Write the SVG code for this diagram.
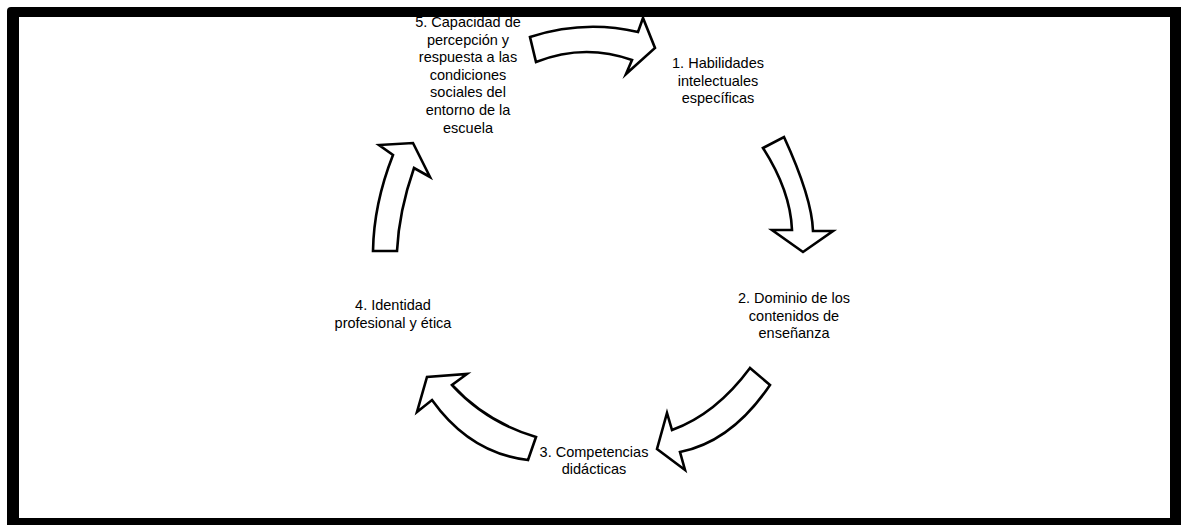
<svg xmlns="http://www.w3.org/2000/svg" width="1181" height="525" viewBox="0 0 1181 525">
  <style>
    .lbl { font-family: "Liberation Sans", Arial, sans-serif; font-size: 14.5px; fill: #000; text-anchor: middle; }
    .arrow { fill: #fff; stroke: #000; stroke-width: 2.6; stroke-linejoin: miter; stroke-miterlimit: 10; }
  </style>

  <!-- page frame -->
  <rect x="0" y="0" width="1181" height="525" fill="#fff"/>
  <rect x="7" y="7" width="1180" height="525" rx="4" fill="#000"/>
  <rect x="19" y="17" width="1151" height="501" fill="#fff"/>

  <!-- curved block arrows between the stages -->
  <g id="connectors">
    <path class="arrow" d="M530,37 Q584,19.5 638,32 L643,18 L655,48 L626,74 L632,60 Q584,43 536,62 Z"/>
    <path class="arrow" d="M763,148 L784,137 Q812,198 813,231 L833,231 L803,252 L772,230 L792,230 Q790.5,191 763,148 Z"/>
    <path class="arrow" d="M750,368 L770,385 Q731.7,441.7 680,452 L685,470 L657,449 L667,413 L672,430 Q715.8,414.2 750,368 Z"/>
    <path class="arrow" d="M536,437 Q486.2,422.2 452,385 L467,374 L427,377 L417,412 L432,400 Q470,453.3 528,460 Z"/>
    <path class="arrow" d="M373,251 L397,251 Q399,211 414,168 L430,177 L413,143 L379,145 L393,155 Q373.7,204 373,251 Z"/>
  </g>

  <g id="node-1">
    <text class="lbl" x="718" y="68">1. Habilidades</text>
    <text class="lbl" x="718" y="85.7">intelectuales</text>
    <text class="lbl" x="718" y="103.4">específicas</text>
  </g>

  <g id="node-2">
    <text class="lbl" x="794" y="303">2. Dominio de los</text>
    <text class="lbl" x="794" y="320.7">contenidos de</text>
    <text class="lbl" x="794" y="338.4">enseñanza</text>
  </g>

  <g id="node-3">
    <text class="lbl" x="594" y="456.5">3. Competencias</text>
    <text class="lbl" x="594" y="474">didácticas</text>
  </g>

  <g id="node-4">
    <text class="lbl" x="393" y="310">4. Identidad</text>
    <text class="lbl" x="393" y="328">profesional y ética</text>
  </g>

  <g id="node-5">
    <text class="lbl" x="468" y="27">5. Capacidad de</text>
    <text class="lbl" x="468" y="44.6">percepción y</text>
    <text class="lbl" x="468" y="62.2">respuesta a las</text>
    <text class="lbl" x="468" y="79.8">condiciones</text>
    <text class="lbl" x="468" y="97.4">sociales del</text>
    <text class="lbl" x="468" y="115">entorno de la</text>
    <text class="lbl" x="468" y="132.6">escuela</text>
  </g>
</svg>
